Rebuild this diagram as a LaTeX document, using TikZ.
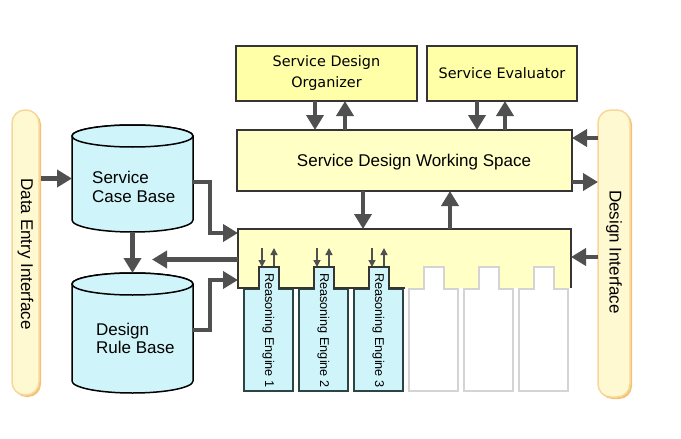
\documentclass[tikz,border=0pt]{standalone}
\usepackage{fontspec}
\setmainfont{Liberation Sans}
\newfontfamily\dvs{DejaVu Sans}
\usetikzlibrary{arrows.meta,calc}
\definecolor{yellowtop}{HTML}{FFFFA8}
\definecolor{yellowbox}{HTML}{FFFFC6}
\definecolor{cyanfill}{HTML}{CFF5FA}
\definecolor{boxline}{HTML}{353535}
\definecolor{engline}{HTML}{2B4444}
\definecolor{emptyline}{HTML}{D4D4D4}
\definecolor{pillfill}{HTML}{FFF9D2}
\definecolor{pillline}{HTML}{F7D79A}
\definecolor{pillshadow}{HTML}{F2C277}
\definecolor{arrowgray}{HTML}{505050}
\begin{document}
\begin{tikzpicture}[x=1pt,y=-1pt,
  big/.style={draw=arrowgray,line width=4.5pt,-{Triangle[length=15pt,width=17pt]}},
  elbow/.style={draw=arrowgray,line width=4pt,-{Triangle[length=15pt,width=17pt]}},
  small/.style={draw=arrowgray,line width=1.3pt,-{Triangle[length=7pt,width=7pt]}},
  topbox/.style={draw=boxline,line width=1.5pt,fill=yellowtop,inner sep=0pt,outer sep=0pt,align=center,font=\dvs\fontsize{14.4}{21}\selectfont},
  wsbox/.style={draw=boxline,line width=1.5pt,fill=yellowbox,inner sep=0pt,outer sep=0pt},
  shapeonly/.style={inner sep=0pt,outer sep=0pt},
  pill/.style={draw=pillline,fill=pillfill,line width=1.5pt,rounded corners=13pt,inner sep=0pt,outer sep=0pt},
  txt/.style={font=\fontsize{17}{20}\selectfont,inner sep=0pt},
  engtxt/.style={font=\fontsize{12.7}{15}\selectfont,inner sep=0pt,rotate=-90,anchor=west},
  cyl/.style={draw=black,line width=1.5pt,fill=cyanfill}
]
\useasboundingbox (0,0) rectangle (681,439);
\fill[white] (0,0) rectangle (681,439);

% interface pills
\fill[pillshadow,rounded corners=13pt] (13.5,111.5) rectangle (41,397);
\node[pill,minimum width=27pt,minimum height=285pt] (dei) at (25.5,252.5) {};
\node[txt,rotate=-90] (deil) at (25.5,254) {Data Entry Interface};
\fill[pillshadow,rounded corners=13pt] (599.5,111.5) rectangle (632,399);
\node[pill,minimum width=32pt,minimum height=287pt] (di) at (614,253.5) {};
\node[txt,rotate=-90] (dil) at (614,252) {Design Interface};

% top boxes
\node[topbox,minimum width=181pt,minimum height=55pt] (org) at (326.5,73.5) {Service Design\\Organizer};
\node[topbox,minimum width=150pt,minimum height=55pt] (eval) at (502,73.5) {Service Evaluator};
\node[wsbox,minimum width=335pt,minimum height=61pt] (ws) at (404.5,160.5) {};
\node[txt] (wsl) at (414,162) {Service Design Working Space};

% cylinders
\path[cyl] (72,136) -- (72,220) arc[start angle=180,end angle=360,x radius=60.5pt,y radius=12pt] -- (193,136) arc[start angle=0,end angle=180,x radius=60.5pt,y radius=11pt] -- cycle;
\draw[cyl] (132.5,136) ellipse[x radius=60.5pt,y radius=11pt];
\node[shapeonly,minimum width=121pt,minimum height=107pt] (cb) at (132.5,178.5) {};
\node[txt,anchor=base west] (cb1) at (92,183) {Service};
\node[txt,anchor=base west] (cb2) at (92,202) {Case Base};

\path[cyl] (72,284) -- (72,381) arc[start angle=180,end angle=360,x radius=60.5pt,y radius=12pt] -- (193,284) arc[start angle=0,end angle=180,x radius=60.5pt,y radius=11pt] -- cycle;
\draw[cyl] (132.5,284) ellipse[x radius=60.5pt,y radius=11pt];
\node[shapeonly,minimum width=121pt,minimum height=120pt] (rbase) at (132.5,333) {};
\node[txt,anchor=base west] (rb1) at (96,335) {Design};
\node[txt,anchor=base west] (rb2) at (96,353) {Rule Base};

% reasoning box
\node[shapeonly,minimum width=333pt,minimum height=59pt] (rb) at (404.5,258.5) {};
\fill[yellowbox] (238,229) -- (571,229) -- (571,288)
  -- (554,288) -- (554,267) -- (534,267) -- (534,288)
  -- (499,288) -- (499,267) -- (479,267) -- (479,288)
  -- (444,288) -- (444,267) -- (424,267) -- (424,288)
  -- (389,288) -- (389,267) -- (369,267) -- (369,288)
  -- (334,288) -- (334,267) -- (314,267) -- (314,288)
  -- (279,288) -- (279,267) -- (259,267) -- (259,288)
  -- (238,288) -- cycle;

% engines
\foreach \i/\fc/\lc in {0/cyanfill/engline,1/cyanfill/engline,2/cyanfill/engline,3/white/emptyline,4/white/emptyline,5/white/emptyline}{
  \pgfmathsetmacro{\L}{244+55*\i}
  \filldraw[fill=\fc,draw=\lc,line width=1.5pt] (\L,391) -- (\L,289) -- (\L+15,289) -- (\L+15,267) -- (\L+35,267) -- (\L+35,289) -- (\L+49,289) -- (\L+49,391) -- cycle;
}
\foreach \i/\n in {0/1,1/2,2/3}{
  \pgfmathsetmacro{\L}{244+55*\i}
  \begin{scope}
    \clip (\L,260) rectangle (\L+49,390);
    \node[engtxt] (e\n) at (\L+24.5,273) {Reasoning Engine \n};
  \end{scope}
  \draw[small] (\L+18,248) -- (\L+18,267);
  \draw[small] (\L+30,267) -- (\L+30,248);
}
\draw[boxline,line width=1.5pt] (405,288) -- (389,288) -- (389,267) -- (369,267) -- (369,288)
  -- (334,288) -- (334,267) -- (314,267) -- (314,288)
  -- (279,288) -- (279,267) -- (259,267) -- (259,288)
  -- (238,288) -- (238,229) -- (571,229) -- (571,288);

% top arrows
\coordinate (a1) at ($(org.south)+(-11.5,0)$);
\coordinate (a2) at ($(org.south)+(18.5,0)$);
\coordinate (a3) at ($(eval.south)+(-25,0)$);
\coordinate (a4) at ($(eval.south)+(3,0)$);
\draw[big] (a1) -- (a1 |- ws.north);
\draw[big] (a2 |- ws.north) -- (a2);
\draw[big] (a3) -- (a3 |- ws.north);
\draw[big] (a4 |- ws.north) -- (a4);
\coordinate (b1) at ($(ws.south)+(-41.5,0)$);
\coordinate (b2) at ($(ws.south)+(45.5,0)$);
\draw[big] (b1) -- (b1 |- rb.north);
\draw[big] (b2 |- rb.north) -- (b2);

% right arrows
\coordinate (w1) at ($(ws.east)+(0,-22.5)$);
\coordinate (w2) at ($(ws.east)+(0,21.5)$);
\coordinate (w3) at ($(rb.east)+(0,-1.5)$);
\draw[big] (w1 -| di.west) -- (w1);
\draw[big] (w2) -- (w2 -| di.west);
\draw[big] (w3 -| di.west) -- (w3);

% left arrows
\coordinate (c1) at ($(dei.east)+(2,0)$);
\draw[big] (c1 |- cb.west) -- (cb.west);
\draw[big] (cb.south) -- (rbase.north);
\coordinate (lt) at (152,259.5);
\draw[big] (rb.west |- lt) -- (lt);
\draw[elbow] ($(cb.east)+(0,3.5)$) -- ++(17,0) |- ($(rb.west)+(0,-25.5)$);
\draw[elbow] ($(rbase.east)+(0,-3)$) -- ++(17,0) |- ($(rb.west)+(0,21.5)$);
\end{tikzpicture}
\end{document}
